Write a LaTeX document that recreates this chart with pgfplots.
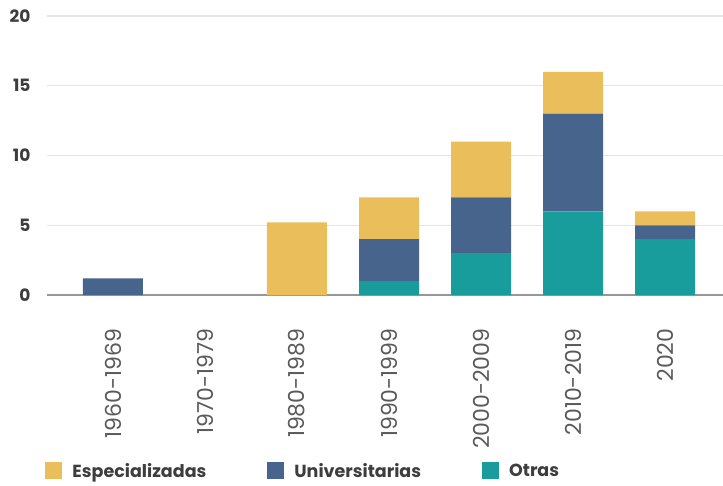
\documentclass[border=0pt]{standalone}
\usepackage{fontspec}
\setmainfont{Poppins}
\usepackage{pgfplots}
\pgfplotsset{compat=1.18}
\definecolor{cesp}{HTML}{E9BE5B}
\definecolor{cuni}{HTML}{46648C}
\definecolor{cotr}{HTML}{189C9C}
\definecolor{ctext}{HTML}{3D3D3D}
\definecolor{clab}{HTML}{5A5A5A}
\definecolor{cgrid}{HTML}{E5E5E5}
\definecolor{cbase}{HTML}{9A9696}
\pgfplotsset{sqlegend/.style={legend image code/.code={\fill[##1, draw=none] (0pt,-8.5pt) rectangle (17pt,8.5pt); \path[draw=none, fill=none] (0pt,0pt) rectangle (25pt,1pt);}}}

\begin{document}
\begin{tikzpicture}
\begin{axis}[
  name=ax,
  scale only axis,
  width=676pt, height=279pt,
  xmin=-0.717, xmax=6.63,
  ymin=0, ymax=20,
  ybar stacked, bar width=60pt,
  xtick={0,...,6},
  xticklabels={1960-1969,1970-1979,1980-1989,1990-1999,2000-2009,2010-2019,2020},
  ytick={0,5,10,15,20},
  major tick length=0pt,
  axis x line=bottom, axis y line=left,
  x axis line style={draw=cbase, line width=2pt, -},
  y axis line style={draw=none},
  ymajorgrids, grid style={cgrid, line width=1.4pt},
  x tick label style={yshift=-30pt, rotate=90, anchor=east, font=\fontsize{22}{24}\selectfont, text=clab},
  y tick label style={xshift=-13pt, font=\bfseries\fontsize{17}{19}\selectfont, text=ctext},
  /pgf/number format/assume math mode=true,
  legend columns=3,
  legend style={at={(axis description cs:-0.007,-0.63)}, anchor=west, draw=none, fill=none,
    font=\bfseries\fontsize{17.5}{19}\selectfont, text=ctext,
    /tikz/every even column/.append style={column sep=59pt}},
  legend cell align=left,
]
\addlegendimage{sqlegend, fill=cesp}
\addlegendentry{Especializadas}
\addlegendimage{sqlegend, fill=cuni}
\addlegendentry{Universitarias}
\addlegendimage{sqlegend, fill=cotr}
\addlegendentry{Otras}
\addplot[fill=cotr, draw=none] coordinates {(0,0) (1,0) (2,0) (3,1) (4,3) (5,6) (6,4)};
\addplot[fill=cuni, draw=none] coordinates {(0,1.2) (1,0) (2,0) (3,3) (4,4) (5,7) (6,1)};
\addplot[fill=cesp, draw=none] coordinates {(0,0) (1,0) (2,5.2) (3,3) (4,4) (5,3) (6,1)};
\end{axis}
\pgfresetboundingbox
\path[use as bounding box] (ax.south west) ++(-47pt,-190pt) rectangle ++(723pt,485pt);
\end{tikzpicture}
\end{document}
